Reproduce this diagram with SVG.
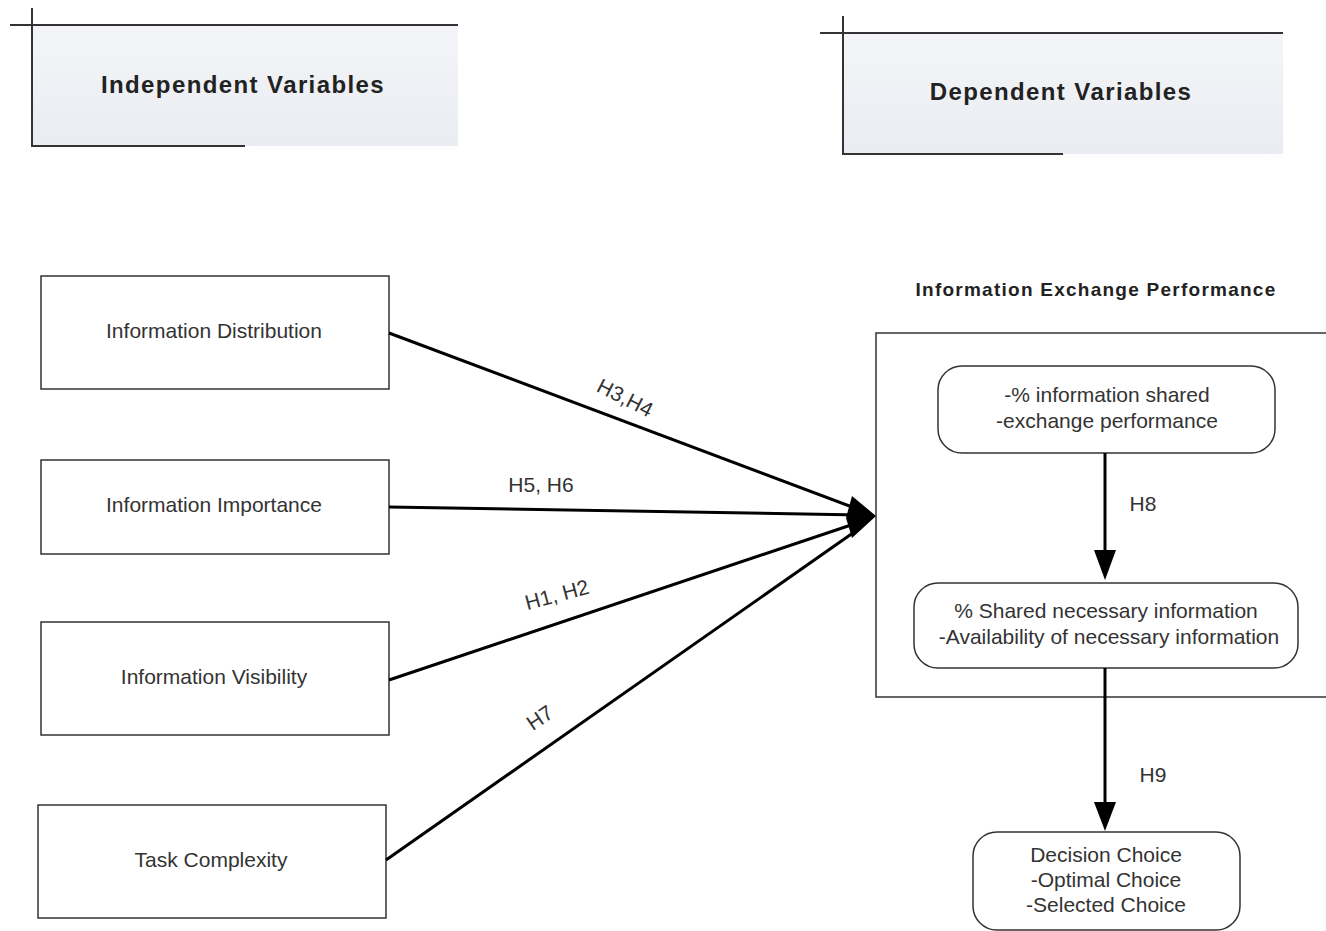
<svg xmlns="http://www.w3.org/2000/svg" width="1326" height="931" viewBox="0 0 1326 931">
<defs>
<linearGradient id="hdr" x1="0" y1="0" x2="0" y2="1">
<stop offset="0" stop-color="#f4f5f8"/>
<stop offset="1" stop-color="#e9ecf2"/>
</linearGradient>
</defs>
<style>
.box{fill:#fff;stroke:#333;stroke-width:1.5}
.rbox{fill:#fff;stroke:#333;stroke-width:1.5}
.ln{stroke:#000;stroke-width:3;fill:none}
.hl{stroke:#333;stroke-width:2;fill:none}
.t{font-family:"Liberation Sans",Arial,sans-serif;font-size:21px;fill:#333;text-anchor:middle}
.b{font-family:"Liberation Sans",Arial,sans-serif;font-weight:bold;fill:#222;text-anchor:middle}
</style>
<rect width="1326" height="931" fill="#fff"/>

<g id="hdr-independent">
<rect x="32" y="25" width="426" height="121" fill="url(#hdr)"/>
<line class="hl" x1="10" y1="25" x2="458" y2="25"/>
<line class="hl" x1="32" y1="8" x2="32" y2="147"/>
<line class="hl" x1="31" y1="146" x2="245" y2="146"/>
<text class="b" x="243" y="93" font-size="24" letter-spacing="1.4">Independent Variables</text>
</g>

<g id="hdr-dependent">
<rect x="843" y="33" width="440" height="121" fill="url(#hdr)"/>
<line class="hl" x1="820" y1="33" x2="1283" y2="33"/>
<line class="hl" x1="843" y1="16" x2="843" y2="155"/>
<line class="hl" x1="842" y1="154" x2="1063" y2="154"/>
<text class="b" x="1061" y="100" font-size="24" letter-spacing="1.4">Dependent Variables</text>
</g>

<g id="n-distribution">
<rect class="box" x="41" y="276" width="348" height="113"/>
<text class="t" x="214" y="338">Information Distribution</text>
</g>
<g id="n-importance">
<rect class="box" x="41" y="460" width="348" height="94"/>
<text class="t" x="214" y="512">Information Importance</text>
</g>
<g id="n-visibility">
<rect class="box" x="41" y="622" width="348" height="113"/>
<text class="t" x="214" y="684">Information Visibility</text>
</g>
<g id="n-complexity">
<rect class="box" x="38" y="805" width="348" height="113"/>
<text class="t" x="211" y="867">Task Complexity</text>
</g>

<g id="n-exchange">
<text class="b" x="1096" y="296" font-size="19" letter-spacing="1.25">Information Exchange Performance</text>
<rect class="box" x="876" y="333" width="460" height="364"/>
</g>
<g id="n-shared">
<rect class="rbox" x="938" y="366" width="337" height="87" rx="24"/>
<text class="t" x="1107" y="402">-% information shared</text>
<text class="t" x="1107" y="428">-exchange performance</text>
</g>
<g id="n-necessary">
<rect class="rbox" x="914" y="583" width="384" height="85" rx="24"/>
<text class="t" x="1106" y="618">% Shared necessary information</text>
<text class="t" x="1109" y="644">-Availability of necessary information</text>
</g>
<g id="n-decision">
<rect class="rbox" x="973" y="832" width="267" height="98" rx="24"/>
<text class="t" x="1106" y="862">Decision Choice</text>
<text class="t" x="1106" y="887">-Optimal Choice</text>
<text class="t" x="1106" y="912">-Selected Choice</text>
</g>

<g id="connectors">
<line class="ln" x1="389" y1="333" x2="860" y2="510"/>
<line class="ln" x1="389" y1="507" x2="860" y2="515"/>
<line class="ln" x1="389" y1="680" x2="860" y2="522"/>
<line class="ln" x1="386" y1="860" x2="860" y2="528"/>
<polygon points="876,516 852,496 846,518 852,538" fill="#000"/>
<line class="ln" x1="1105" y1="453" x2="1105" y2="550"/>
<polygon points="1094,550 1116,550 1105,580" fill="#000"/>
<line class="ln" x1="1105" y1="668" x2="1105" y2="802"/>
<polygon points="1094,802 1116,802 1105,831" fill="#000"/>
<text class="t" x="625" y="405" transform="rotate(27 625 398)">H3,H4</text>
<text class="t" x="541" y="492">H5, H6</text>
<text class="t" x="557" y="602" transform="rotate(-15 557 595)">H1, H2</text>
<text class="t" x="540" y="725" transform="rotate(-34 540 718)">H7</text>
<text class="t" x="1143" y="511">H8</text>
<text class="t" x="1153" y="782">H9</text>
</g>
</svg>
